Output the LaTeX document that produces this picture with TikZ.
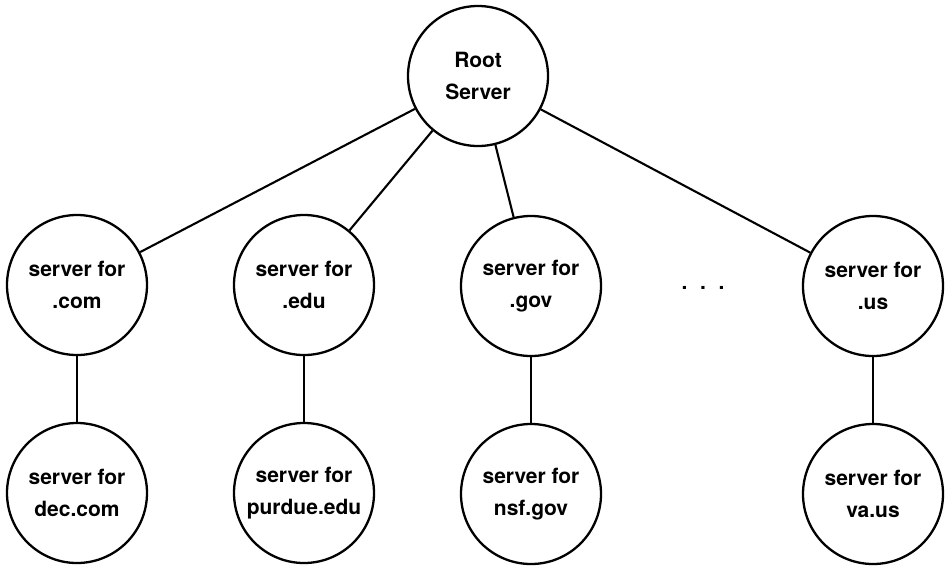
\documentclass[tikz,border=0pt]{standalone}
\usepackage{fontspec}
\setmainfont{TeX Gyre Heros}
\begin{document}
\begin{tikzpicture}[x=1pt,y=-1pt,
  srv/.style={circle,draw,line width=2.3pt,minimum size=140pt,inner sep=0pt,align=center,
    font=\fontsize{21}{32}\selectfont\bfseries},
  conn/.style={line width=2.1pt}]
\useasboundingbox (0,0) rectangle (950,566);
\node[srv] (root) at (478,76) {Root\\Server};
\node[srv] (com) at (77,285) {server for\\.com};
\node[srv] (edu) at (304,285) {server for\\.edu};
\node[srv] (gov) at (531,286) {server for\\.gov};
\node[srv] (us) at (873,286) {server for\\.us};
\node[srv] (dec) at (77,493) {server for\\dec.com};
\node[srv] (pur) at (304,493) {server for\\purdue.edu};
\node[srv] (nsf) at (531,494) {server for\\nsf.gov};
\node[srv] (va) at (873,494) {server for\\va.us};
\node[anchor=base,inner sep=0pt,font=\fontsize{21}{32}\selectfont\bfseries] (dots) at (703,289) {.\hspace{12.7pt}.\hspace{12.7pt}.};
\draw[conn] (root) -- (com);
\draw[conn] (root) -- (edu);
\draw[conn] (root) -- (gov);
\draw[conn] (root) -- (us);
\draw[conn] (com) -- (dec);
\draw[conn] (edu) -- (pur);
\draw[conn] (gov) -- (nsf);
\draw[conn] (us) -- (va);
\end{tikzpicture}
\end{document}
